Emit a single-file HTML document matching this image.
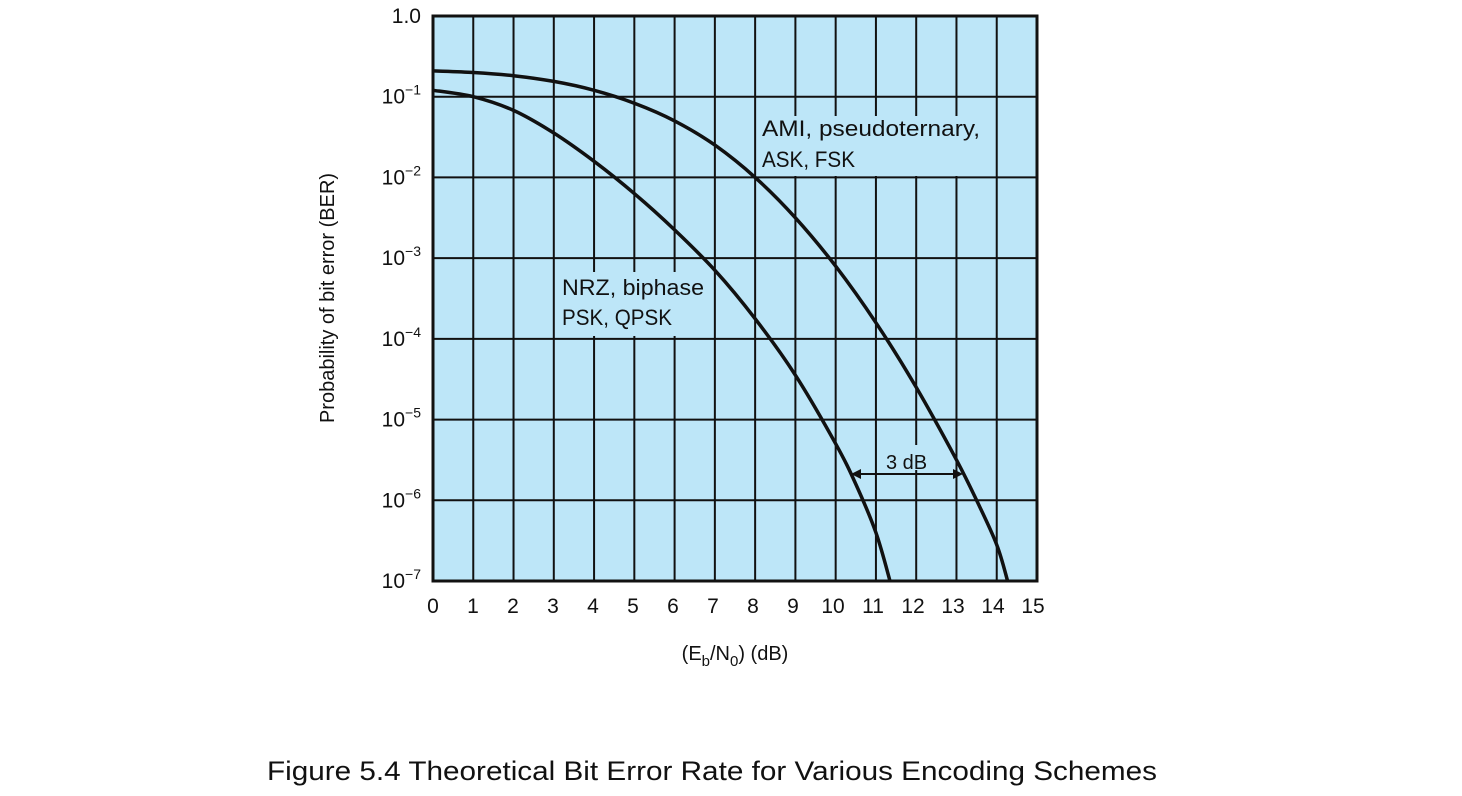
<!DOCTYPE html>
<html><head><meta charset="utf-8"><style>
body{margin:0;background:#fff;}
svg text{font-family:"Liberation Sans",sans-serif;fill:#111;}
</style></head><body>
<svg id="chart" width="1462" height="791" xmlns="http://www.w3.org/2000/svg">
<rect x="433" y="16" width="604" height="565" fill="#bde6f8"/>
<g id="grid"></g>
<rect x="757" y="116" width="238" height="60" fill="#bde6f8"/>
<rect x="556" y="272" width="150" height="64" fill="#bde6f8"/>
<g id="curves"></g>
<rect x="433" y="16" width="604" height="565" fill="none" stroke="#111" stroke-width="3"/>
<g id="xticks" font-size="21"></g>
<g id="yticks" font-size="21"></g>
<text x="735" y="660" font-size="20" text-anchor="middle">(E<tspan font-size="15" dy="6">b</tspan><tspan dy="-6">/N</tspan><tspan font-size="15" dy="6">0</tspan><tspan dy="-6">) (dB)</tspan></text>
<text transform="translate(334,298) rotate(-90)" font-size="20" text-anchor="middle">Probability of bit error (BER)</text>
<text x="762" y="136" font-size="22" textLength="218" lengthAdjust="spacingAndGlyphs">AMI, pseudoternary,</text>
<text x="762" y="167" font-size="22" textLength="93" lengthAdjust="spacingAndGlyphs">ASK, FSK</text>
<text x="562" y="295" font-size="22" textLength="142" lengthAdjust="spacingAndGlyphs">NRZ, biphase</text>
<text x="562" y="325" font-size="22" textLength="110" lengthAdjust="spacingAndGlyphs">PSK, QPSK</text>
<g>
<rect x="880" y="445" width="48" height="25" fill="#bde6f8"/>
<line x1="856" y1="474" x2="958" y2="474" stroke="#111" stroke-width="2"/>
<path d="M851,474 l10,-5 v10z M963,474 l-10,-5 v10z" fill="#111"/>
<text x="886" y="469" font-size="20">3 dB</text>
</g>
<text x="712" y="780" font-size="27" text-anchor="middle" textLength="890" lengthAdjust="spacingAndGlyphs">Figure 5.4  Theoretical Bit Error Rate for Various Encoding Schemes</text>
</svg>
<script>
const xTicks=[0,1,2,3,4,5,6,7,8,9,10,11,12,13,14,15];
const yExp=[0,-1,-2,-3,-4,-5,-6,-7];
const nrzX=[0,1,2,3,4,5,6,7,8,9,10,10.5,11,11.35];
const nrzLog=[-0.92,-1.0,-1.17,-1.45,-1.8,-2.2,-2.65,-3.15,-3.75,-4.45,-5.3,-5.8,-6.4,-7];
const amiX=[0,1,2,3,4,5,6,7,8,9,10,11,12,13,13.5,14,14.27];
const amiLog=[-0.68,-0.7,-0.74,-0.81,-0.92,-1.08,-1.3,-1.6,-2.0,-2.5,-3.1,-3.8,-4.6,-5.5,-6.0,-6.55,-7];
const L=433,R=1037,T=16,B=581;
const sx=v=>L+(v-0)/15*(R-L);
const sy=e=>T+(0-e)/7*(B-T);
const NS="http://www.w3.org/2000/svg";
function mk(t,p,a){const e=document.createElementNS(NS,t);for(const k in a)e.setAttribute(k,a[k]);p.appendChild(e);return e;}
const grid=document.getElementById('grid');
xTicks.forEach(v=>{const l=mk('line',grid,{x1:sx(v),x2:sx(v),y1:T,y2:B,stroke:'#111','stroke-width':2});

});
yExp.forEach(e=>{const l=mk('line',grid,{x1:L,x2:R,y1:sy(e),y2:sy(e),stroke:'#111','stroke-width':2});

});
const xt=document.getElementById('xticks');
xTicks.forEach(v=>{const t=mk('text',xt,{x:sx(v)-(v/15)*4,y:613,'text-anchor':'middle'});t.textContent=v;

});
const yt=document.getElementById('yticks');
yExp.forEach(e=>{const t=mk('text',yt,{x:421,y:sy(e)+7,'text-anchor':'end'});


if(e===0){t.textContent='1.0';}else{t.textContent='10';const s=mk('tspan',t,{dy:-9,'font-size':14});s.textContent='\u2212'+(-e);}});
const cv=document.getElementById('curves');
function curve(xs,ys,name){
const P=xs.map((x,i)=>[sx(x),sy(ys[i])]);
let d='M'+P[0][0].toFixed(1)+','+P[0][1].toFixed(1);
for(let i=0;i<P.length-1;i++){
const p0=P[i>0?i-1:i],p1=P[i],p2=P[i+1],p3=P[i+2<P.length?i+2:i+1];
const c1=[p1[0]+(p2[0]-p0[0])/6,p1[1]+(p2[1]-p0[1])/6];
const c2=[p2[0]-(p3[0]-p1[0])/6,p2[1]-(p3[1]-p1[1])/6];
d+=' C'+c1.map(v=>v.toFixed(1)).join(',')+' '+c2.map(v=>v.toFixed(1)).join(',')+' '+p2.map(v=>v.toFixed(1)).join(',');}
const p=mk('path',cv,{d:d,fill:'none',stroke:'#111','stroke-width':3.5,'stroke-linejoin':'round'});

}
curve(nrzX,nrzLog,'nrz-curve');
curve(amiX,amiLog,'ami-curve');
</script>
</body></html>
